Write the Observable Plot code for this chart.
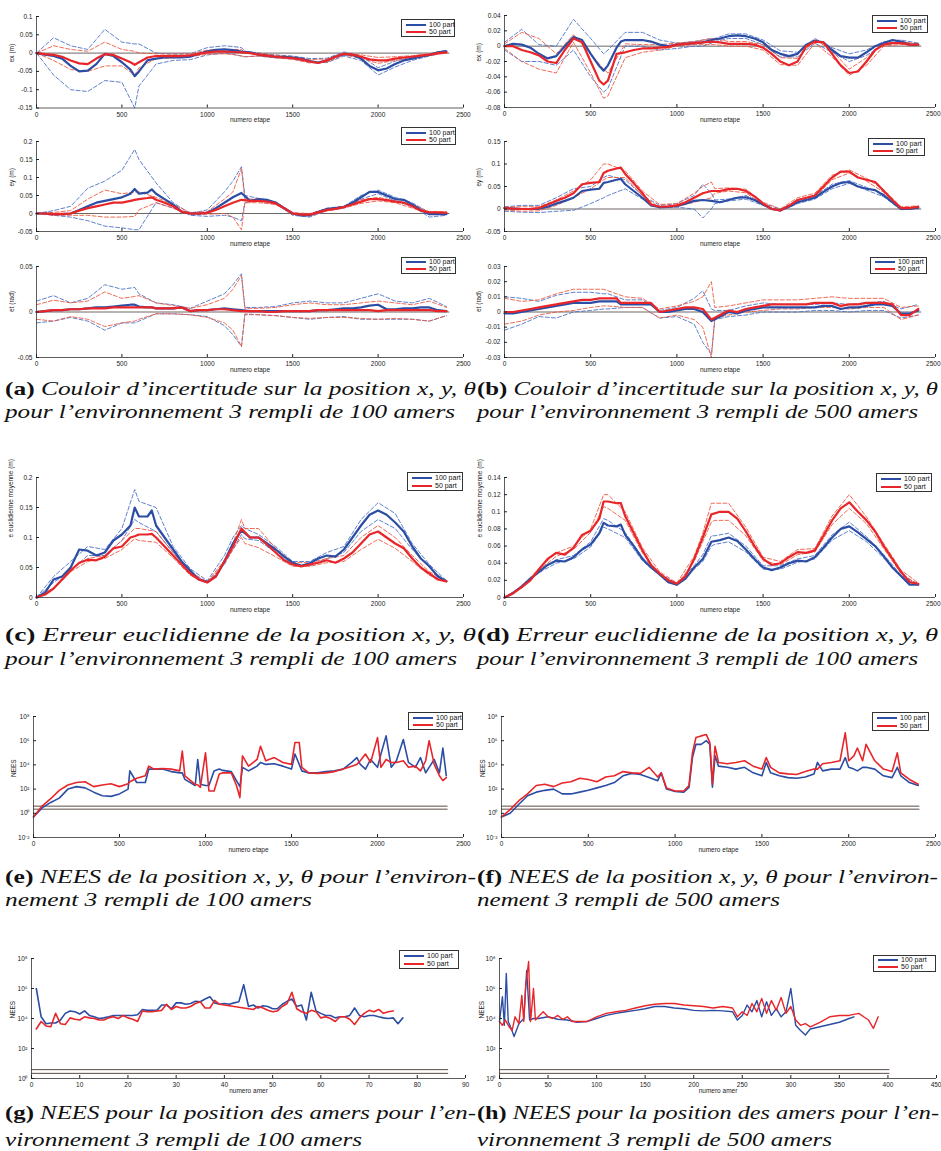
<!DOCTYPE html>
<html><head><meta charset="utf-8">
<script src="https://cdn.jsdelivr.net/npm/d3@7"></script>
<script src="https://cdn.jsdelivr.net/npm/@observablehq/plot@0.6"></script>
<style>
html,body{margin:0;padding:0;background:#fff;}
#root{position:relative;width:941px;height:1151px;overflow:hidden;background:#fff;}
.lg{position:absolute;border:0.8px solid #333;background:#fff;box-sizing:border-box;font:7px "Liberation Sans",Arial,sans-serif;color:#111;}
.lg .sw{position:absolute;left:4px;width:20px;height:2px;}
.lg .t{position:absolute;left:27px;white-space:nowrap;line-height:8px;}
</style></head><body><div id="root"></div>
<script>
// ---------------- data ----------------
const XE = [0,50,100,150,200,250,300,350,400,450,
 500,550,575,600,650,675,
 700,750,800,850,900,950,1000,1050,1100,1150,
 1200,1250,1300,1350,1400,1450,1500,1550,1600,1650,
 1700,1750,1800,1850,1900,1950,2000,2050,2100,2150,
 2200,2250,2300,2350,2400];
const XENV = [0,100,200,300,400,500,575, 600,700,800,900,1000,1100,1150, 1200,1220,1300,1400,1500,1600,1700, 1800,1900,2000,2100,2200,2300,2400];

// (a) ex
const A1_BLUE = [0,-0.004,-0.008,-0.015,-0.035,-0.05,-0.048,-0.03,-0.002,-0.008,
 -0.025,-0.045,-0.063,-0.05,-0.02,-0.017,
 -0.015,-0.012,-0.012,-0.012,-0.01,-0.002,0.005,0.009,0.01,0.008,
 0.004,0.002,-0.004,-0.007,-0.01,-0.01,-0.012,-0.015,-0.022,-0.026,
 -0.02,-0.01,-0.003,-0.005,-0.015,-0.035,-0.047,-0.042,-0.03,-0.02,
 -0.015,-0.01,-0.005,0.002,0.005];
const A1_RED = [0,-0.003,-0.005,-0.01,-0.02,-0.028,-0.03,-0.015,-0.003,-0.005,
 -0.015,-0.025,-0.032,-0.025,-0.012,-0.01,
 -0.008,-0.008,-0.008,-0.008,-0.006,-0.002,0.002,0.004,0.004,0.003,
 0.002,0,-0.004,-0.007,-0.01,-0.012,-0.014,-0.017,-0.023,-0.027,
 -0.02,-0.01,-0.002,-0.004,-0.01,-0.017,-0.02,-0.02,-0.015,-0.012,
 -0.01,-0.007,-0.004,0,0.002];
const A1_BLUE_HI = [0,0.042,0.02,0.01,0.065,0.03,0.025, 0.025,0,-0.003,-0.002,0.015,0.02,0.018, 0.015,0.005,0,-0.005,-0.008,-0.015,-0.014, 0.003,-0.008,-0.04,-0.022,-0.01,-0.002,0.008];
const A1_BLUE_LO = [0,-0.06,-0.1,-0.105,-0.075,-0.08,-0.15, -0.09,-0.03,-0.02,-0.018,-0.005,0,-0.003, -0.008,-0.01,-0.008,-0.013,-0.016,-0.025,-0.026, -0.008,-0.02,-0.06,-0.038,-0.02,-0.008,0.003];
const A1_RED_HI = [0,0.02,0.01,0.005,0.03,0.01,0.005, 0,-0.002,-0.003,-0.002,0.008,0.01,0.01, 0.01,0,0,-0.006,-0.01,-0.018,-0.016, 0,-0.005,-0.012,-0.01,-0.007,-0.002,0.004];
const A1_RED_LO = [0,-0.02,-0.045,-0.05,-0.035,-0.035,-0.06, -0.04,-0.015,-0.013,-0.01,-0.003,-0.002,-0.004, -0.008,-0.01,-0.008,-0.013,-0.017,-0.027,-0.025, -0.005,-0.014,-0.028,-0.02,-0.013,-0.007,0];

// (a) ey
const A2_BLUE = [0,0,-0.002,-0.002,0,0.01,0.02,0.03,0.035,0.04,
 0.045,0.055,0.068,0.055,0.058,0.067,
 0.055,0.04,0.025,0.005,0,0,0.002,0.015,0.03,0.045,
 0.057,0.035,0.04,0.038,0.03,0.015,0,-0.005,-0.005,0.005,
 0.012,0.015,0.018,0.03,0.045,0.06,0.06,0.05,0.04,0.038,
 0.025,0.01,-0.002,-0.002,-0.002];
const A2_RED = [0,0,-0.002,-0.001,0,0.008,0.015,0.02,0.025,0.03,
 0.03,0.035,0.038,0.04,0.043,0.045,
 0.038,0.03,0.02,0.005,0,0,0.002,0.01,0.02,0.03,
 0.038,0.035,0.035,0.033,0.028,0.015,0,-0.003,-0.003,0.003,
 0.01,0.013,0.018,0.025,0.033,0.04,0.04,0.037,0.033,0.03,
 0.02,0.008,0.003,0.003,0.002];
const A2_BLUE_HI = [0,0.008,0.02,0.07,0.09,0.12,0.178, 0.15,0.085,0.03,0,0.01,0.06,0.09, 0.13,0.05,0.042,0.033,0.002,-0.003,0.015, 0.02,0.05,0.065,0.045,0.03,0.002,0];
const A2_BLUE_LO = [0,-0.005,-0.01,-0.02,-0.035,-0.04,-0.045, -0.045,0.03,0.015,-0.005,-0.008,-0.005,-0.01, -0.02,0.03,0.035,0.027,-0.005,-0.01,0.008, 0.015,0.04,0.055,0.035,0.02,-0.01,-0.005];
const A2_RED_HI = [0,0.003,0.008,0.04,0.065,0.055,0.06, 0.06,0.045,0.025,0.003,0.005,0.04,0.06, 0.125,0.04,0.04,0.03,0.002,0,0.013, 0.02,0.038,0.045,0.035,0.025,0.005,0.005];
const A2_RED_LO = [0,-0.005,-0.005,-0.005,-0.01,-0.01,-0.008, 0.01,0.03,0.015,-0.003,-0.002,0,-0.01, -0.045,0.03,0.03,0.025,-0.002,-0.006,0.007, 0.015,0.028,0.035,0.03,0.015,0,0];

// (a) etheta
const A3_BLUE = [0,0.001,0.002,0.002,0.003,0.003,0.004,0.005,0.005,0.006,
 0.007,0.008,0.008,0.006,0.005,0.005,
 0.004,0.004,0.004,0.005,0.001,0.002,0.002,0.003,0.004,0.003,
 0.002,0.001,0.001,0.001,0.001,0.001,0.001,0.001,0.001,0.002,
 0.002,0.003,0.004,0.004,0.005,0.007,0.008,0.003,0.003,0.004,
 0.004,0.005,0.005,0.002,0.001];
const A3_RED = [0,0.001,0.002,0.002,0.003,0.003,0.004,0.004,0.004,0.005,
 0.005,0.005,0.005,0.005,0.005,0.005,
 0.004,0.004,0.004,0.005,0.001,0.002,0.002,0.003,0.003,0.002,
 0.001,0.001,0.001,0,0,0.001,0.001,0.001,0.001,0.002,
 0.002,0.002,0.002,0.002,0.002,0.002,0.001,0.002,0.002,0.002,
 0.002,0.002,0.002,0.001,0.001];
const A3_BLUE_HI = [0.012,0.018,0.01,0.015,0.03,0.025,0.027, 0.02,0.01,0.008,0.004,0.012,0.02,0.03, 0.042,0.005,0.005,0.006,0.01,0.012,0.01, 0.01,0.015,0.02,0.012,0.01,0.015,0.006];
const A3_BLUE_LO = [-0.012,-0.01,-0.006,-0.01,-0.02,-0.012,-0.012, -0.01,-0.002,-0.002,-0.003,-0.005,-0.015,-0.025, -0.038,-0.003,-0.003,-0.004,-0.006,-0.008,-0.006, -0.005,-0.008,-0.008,-0.008,-0.008,-0.01,-0.004];
const A3_RED_HI = [0.008,0.013,0.01,0.012,0.022,0.015,0.017, 0.018,0.01,0.007,0.004,0.008,0.015,0.025, 0.04,0.004,0.004,0.005,0.008,0.01,0.008, 0.008,0.01,0.012,0.01,0.008,0.012,0.005];
const A3_RED_LO = [-0.008,-0.01,-0.005,-0.008,-0.016,-0.012,-0.01, -0.008,-0.002,-0.002,-0.003,-0.006,-0.012,-0.02, -0.038,-0.002,-0.003,-0.004,-0.006,-0.007,-0.006, -0.006,-0.007,-0.008,-0.007,-0.008,-0.01,-0.004];

// (b) ex
const B1_BLUE = [0,0.003,0.002,-0.002,-0.01,-0.016,-0.013,0,0.012,0.008,
 -0.01,-0.026,-0.032,-0.025,-0.002,0.006,
 0.008,0.008,0.008,0.006,0.002,0,0.002,0.003,0.004,0.005,
 0.008,0.01,0.013,0.014,0.013,0.01,0.005,-0.005,-0.01,-0.013,
 -0.01,0.002,0.007,0.005,-0.005,-0.013,-0.015,-0.015,-0.008,0,
 0.004,0.008,0.006,0.002,0.002];
const B1_RED = [0,0,-0.005,-0.008,-0.012,-0.02,-0.022,-0.005,0.01,0.005,
 -0.02,-0.045,-0.05,-0.045,-0.01,-0.009,
 -0.008,-0.005,-0.003,-0.003,-0.002,-0.001,0.002,0.003,0.004,0.005,
 0.006,0.005,0.003,0.003,0.003,0.002,-0.002,-0.01,-0.02,-0.025,
 -0.02,0,0.006,0.005,-0.01,-0.025,-0.035,-0.033,-0.02,-0.005,
 0.002,0.004,0.004,0.002,0.002];
const B1_BLUE_HI = [0.005,0.022,0.002,0,0.035,0.01,-0.01, -0.005,0.018,0.018,0.008,0.004,0.006,0.008, 0.01,0.01,0.016,0.016,0.008,-0.006,-0.008, 0.01,-0.002,-0.01,-0.005,0.006,0.008,0.004];
const B1_BLUE_LO = [-0.005,-0.02,-0.02,-0.025,-0.005,-0.04,-0.06, -0.055,0,0,-0.005,-0.003,0,0, 0.004,0.006,0.01,0.01,0.002,-0.014,-0.014, 0.004,-0.008,-0.02,-0.012,0.002,0.004,0.001];
const B1_RED_HI = [0.003,0.018,0.01,-0.01,0.015,-0.01,-0.03, -0.035,0.003,0.002,0.002,0.004,0.006,0.008, 0.01,0.01,0.006,0.006,0.002,-0.015,-0.016, 0.009,-0.006,-0.03,-0.015,0.004,0.006,0.003];
const B1_RED_LO = [-0.003,-0.02,-0.03,-0.035,0.005,-0.035,-0.068, -0.065,-0.015,-0.008,-0.005,0,0.002,0.002, 0.002,0.002,0,0,-0.005,-0.024,-0.025, 0.004,-0.014,-0.038,-0.025,0,0.002,0.001];

// (b) ey
const B2_BLUE = [0.002,0.001,0,0,0.001,0.005,0.012,0.018,0.025,0.04,
 0.043,0.045,0.058,0.06,0.065,0.067,
 0.055,0.04,0.025,0.008,0.004,0.005,0.007,0.012,0.018,0.02,
 0.018,0.015,0.02,0.025,0.026,0.02,0.01,0,-0.003,0.005,
 0.015,0.02,0.025,0.038,0.05,0.058,0.06,0.05,0.045,0.042,
 0.03,0.015,0,0,0.003];
const B2_RED = [0.002,0.001,0,0,0.002,0.01,0.018,0.025,0.035,0.055,
 0.058,0.06,0.08,0.085,0.09,0.092,
 0.078,0.057,0.035,0.01,0.005,0.006,0.008,0.015,0.025,0.035,
 0.04,0.04,0.044,0.045,0.04,0.028,0.012,0,-0.003,0.007,
 0.02,0.025,0.03,0.05,0.07,0.083,0.083,0.07,0.065,0.06,
 0.04,0.02,0.002,0.002,0.005];
const B2_BLUE_HI = [0.005,0.008,0.008,0.025,0.045,0.05,0.07, 0.075,0.065,0.03,0.008,0.012,0.03,0.055, 0.035,0.02,0.022,0.03,0.012,0,0.018, 0.028,0.055,0.063,0.048,0.033,0.002,0.005];
const B2_BLUE_LO = [-0.005,-0.007,-0.008,-0.005,-0.003,0.012,0.025, 0.03,0.045,0.022,0.002,0.004,0,-0.02, 0,0.012,0.018,0.022,0.008,-0.005,0.012, 0.022,0.045,0.057,0.042,0.027,-0.002,0.002];
const B2_RED_HI = [0.004,0.005,0.005,0.02,0.04,0.065,0.1, 0.1,0.085,0.04,0.01,0.012,0.035,0.05, 0.06,0.045,0.047,0.044,0.015,0,0.025, 0.035,0.075,0.087,0.068,0.043,0.005,0.007];
const B2_RED_LO = [-0.002,-0.005,-0.004,0.008,0.025,0.045,0.065, 0.07,0.07,0.03,0.003,0.005,0.015,0.02, 0.025,0.035,0.04,0.036,0.009,-0.005,0.016, 0.026,0.065,0.08,0.062,0.037,0,0.003];

// (b) etheta
const B3_BLUE = [-0.001,-0.001,0,0.001,0.002,0.003,0.004,0.005,0.006,0.006,
 0.006,0.007,0.007,0.007,0.007,0.005,
 0.005,0.005,0.005,0.005,0,0,0.001,0.002,0.002,0,
 -0.006,-0.003,0,-0.001,0.001,0.002,0.003,0.003,0.003,0.003,
 0.003,0.003,0.003,0.004,0.004,0.002,0.003,0.003,0.004,0.005,
 0.005,0.004,-0.001,-0.001,0.001];
const B3_RED = [0,0,0.001,0.002,0.003,0.004,0.005,0.006,0.007,0.008,
 0.008,0.009,0.009,0.009,0.009,0.006,
 0.006,0.006,0.006,0.006,0,0.001,0.002,0.003,0.003,0.002,
 -0.005,-0.002,0.001,0,0.002,0.003,0.004,0.005,0.005,0.005,
 0.005,0.005,0.006,0.006,0.006,0.004,0.005,0.005,0.006,0.006,
 0.006,0.005,-0.002,-0.002,0.002];
const B3_BLUE_HI = [0.01,0.009,0.007,0.011,0.013,0.013,0.012, 0.012,0.008,0.008,0.001,0.003,0.009,0.014, 0.002,0.001,0.001,0.004,0.006,0.005,0.005, 0.005,0.006,0.005,0.006,0.007,0.002,0.005];
const B3_BLUE_LO = [-0.012,-0.008,-0.003,-0.004,0,0.001,0.002, 0.002,0.003,0.003,-0.004,-0.003,-0.008,-0.02, -0.028,-0.005,-0.003,-0.002,0,0,0, 0.001,0.001,0,0.001,0.001,-0.004,-0.002];
const B3_RED_HI = [0.009,0.007,0.008,0.012,0.015,0.015,0.015, 0.014,0.01,0.009,0.002,0.004,0.007,0.01, 0.02,0.003,0.004,0.006,0.008,0.008,0.008, 0.009,0.01,0.009,0.009,0.009,0.003,0.004];
const B3_RED_LO = [-0.008,-0.006,-0.002,0,0.001,0.003,0.004, 0.004,0.003,0.003,-0.004,-0.002,-0.005,-0.01, -0.03,-0.004,-0.002,0,0.001,0.002,0.002, 0.003,0.003,0.002,0.003,0.003,-0.005,-0.002];

// (c) euclidean error, 100 landmarks
const C_BLUE = [0,0.008,0.03,0.035,0.05,0.08,0.078,0.07,0.075,0.095,
 0.105,0.12,0.15,0.135,0.135,0.145,
 0.12,0.1,0.08,0.06,0.045,0.03,0.026,0.035,0.06,0.09,
 0.112,0.1,0.1,0.09,0.08,0.068,0.058,0.053,0.057,0.065,
 0.07,0.068,0.08,0.1,0.12,0.138,0.145,0.138,0.125,0.11,
 0.085,0.065,0.052,0.035,0.027];
const C_RED = [0,0.005,0.015,0.03,0.045,0.058,0.063,0.062,0.068,0.082,
 0.085,0.1,0.102,0.105,0.105,0.106,
 0.1,0.085,0.07,0.055,0.04,0.03,0.025,0.035,0.06,0.085,
 0.115,0.1,0.1,0.088,0.075,0.062,0.055,0.052,0.055,0.058,
 0.062,0.058,0.065,0.075,0.09,0.105,0.11,0.1,0.09,0.082,
 0.065,0.05,0.04,0.03,0.027];
const C_BLUE_HI = [0,0.035,0.06,0.085,0.08,0.115,0.18, 0.16,0.15,0.085,0.048,0.028,0.07,0.1, 0.12,0.115,0.105,0.085,0.06,0.06,0.075, 0.085,0.13,0.158,0.14,0.09,0.055,0.028];
const C_BLUE_LO = [0,0.025,0.045,0.07,0.07,0.095,0.13, 0.125,0.11,0.075,0.042,0.024,0.055,0.08, 0.105,0.098,0.095,0.075,0.055,0.053,0.065, 0.075,0.11,0.13,0.115,0.08,0.05,0.026];
const C_RED_HI = [0,0.016,0.047,0.065,0.07,0.095,0.115, 0.115,0.11,0.075,0.043,0.026,0.062,0.09, 0.13,0.115,0.115,0.082,0.058,0.058,0.065, 0.07,0.1,0.12,0.1,0.07,0.043,0.028];
const C_RED_LO = [0,0.014,0.043,0.06,0.065,0.08,0.098, 0.095,0.092,0.066,0.037,0.024,0.058,0.08, 0.1,0.09,0.083,0.068,0.052,0.052,0.058, 0.06,0.08,0.097,0.082,0.06,0.037,0.026];

// (d) euclidean error, 500 landmarks
const D_BLUE = [0,0.005,0.013,0.022,0.03,0.038,0.043,0.042,0.047,0.056,
 0.062,0.075,0.087,0.084,0.083,0.085,
 0.073,0.06,0.045,0.035,0.027,0.018,0.015,0.022,0.035,0.045,
 0.065,0.067,0.07,0.066,0.056,0.045,0.035,0.032,0.035,0.04,
 0.043,0.042,0.047,0.058,0.07,0.08,0.083,0.076,0.068,0.06,
 0.048,0.035,0.025,0.015,0.015];
const D_RED = [0,0.005,0.012,0.02,0.033,0.045,0.052,0.05,0.058,0.073,
 0.078,0.092,0.112,0.112,0.11,0.11,
 0.095,0.075,0.055,0.038,0.028,0.02,0.016,0.025,0.045,0.07,
 0.097,0.1,0.1,0.092,0.077,0.06,0.045,0.038,0.04,0.047,
 0.053,0.052,0.055,0.072,0.09,0.104,0.111,0.1,0.09,0.077,
 0.06,0.045,0.03,0.018,0.016];
const D_BLUE_HI = [0,0.013,0.031,0.044,0.049,0.065,0.092, 0.09,0.076,0.047,0.028,0.016,0.037,0.05, 0.072,0.072,0.075,0.06,0.037,0.037,0.045, 0.049,0.073,0.088,0.071,0.05,0.026,0.016];
const D_BLUE_LO = [0,0.012,0.029,0.04,0.045,0.059,0.082, 0.08,0.07,0.043,0.026,0.014,0.033,0.042, 0.06,0.062,0.065,0.053,0.033,0.033,0.041, 0.045,0.067,0.078,0.065,0.046,0.024,0.014];
const D_RED_HI = [0,0.013,0.034,0.052,0.06,0.08,0.12, 0.12,0.1,0.058,0.03,0.017,0.048,0.075, 0.11,0.11,0.11,0.082,0.047,0.042,0.056, 0.057,0.095,0.12,0.094,0.063,0.032,0.017];
const D_RED_LO = [0,0.011,0.032,0.048,0.056,0.076,0.106, 0.104,0.09,0.052,0.026,0.015,0.042,0.065, 0.088,0.09,0.09,0.072,0.043,0.038,0.05, 0.053,0.085,0.104,0.086,0.057,0.028,0.015];

// (e) NEES robot, 100 landmarks
const E_X = [0,50,100,150,200,250,300,350,400,450,
 500,550,560,600,650,670,700,750,800,850,
 865,880,940,955,970,1000,1020,1050,1080,1100,
 1150,1180,1200,1215,1250,1300,1320,1350,1400,1450,
 1500,1520,1545,1560,1600,1650,1700,1750,1800,1850,
 1880,1900,1930,1960,2000,2020,2050,2080,2110,2150,
 2180,2220,2250,2280,2300,2330,2360,2380,2400];
const E_BLUE = [0.5,2.8,7.9,18,100,160,126,56,28,25,
 40,100,3200,350,350,4500,4500,4500,2800,2200,
 2200,630,200,28000,250,200,200,3200,4500,3500,
 2800,500,160,6300,3200,7900,16000,11000,12600,7900,
 4500,79000,11000,3200,2200,2200,2800,3200,4500,16000,
 40000,11000,4500,28000,6300,79000,2.5e6,6300,22000,1.26e6,
 16000,6300,40000,2200,6300,28000,2200,2.5e5,1260];
const E_RED = [0.5,4,16,79,220,350,400,160,220,280,
 160,280,400,800,1260,7900,4500,5000,4500,3200,
 1.4e5,1260,250,220,140,1e5,70,70,1800,2200,
 2200,200,20,56000,7900,28000,3.5e5,22000,40000,16000,
 11000,7e5,7e5,6300,2200,2000,2200,2800,4500,7900,
 11000,22000,79000,16000,1.8e6,6300,28000,16000,16000,22000,
 6300,7900,3200,22000,1e6,11000,1260,500,900];

// (f) NEES robot, 500 landmarks
const F_X = [0,50,100,150,200,250,300,350,400,450,
 500,550,600,650,700,750,800,850,900,920,
 950,1000,1050,1080,1100,1120,1150,1180,1200,1215,
 1230,1250,1300,1350,1400,1450,1500,1525,1550,1600,
 1650,1700,1750,1800,1820,1850,1900,1950,1980,2000,
 2030,2050,2080,2100,2150,2200,2250,2280,2300,2350,
 2400];
const F_BLUE = [0.5,1,5.6,28,56,79,100,40,40,56,
 79,126,200,350,1260,2000,1600,890,500,2200,
 100,63,56,141,40000,5e5,5e5,1e6,5e5,141,
 56000,7900,6300,4500,6300,2200,1260,16000,2200,1260,
 890,790,1000,1800,16000,3200,4500,4500,40000,6300,
 4500,3200,6300,6300,4500,1260,890,6300,1260,350,
 200];
const F_RED = [0.5,2,11,40,200,250,160,320,400,790,
 630,400,1000,1260,2800,2200,2000,6300,1000,2200,
 126,70,70,200,1e5,1.8e6,2.5e6,3.2e6,7e5,250,
 3.5e5,16000,12600,16000,22000,7900,4500,40000,6300,2200,
 1800,1600,2800,4500,4500,12600,16000,22000,4.5e6,22000,
 56000,2.5e5,22000,5e5,22000,4500,2800,1e5,2200,630,
 250];

// (g) NEES landmarks, 100 landmarks
const G_X_BLUE = [1,2,3,4,5,6,7,8,9,10,11,12,13,14,15,16,17,18,19,20,21,22,23,24,25,26,27,28,29,30,31,32,33,34,35,36,37,38,39,40,41,42,43,44,45,46,47,48,49,50,51,52,53,54,55,56,57,58,59,60,61,62,63,64,65,66,67,68,69,70,71,72,73,74,75,76,77];
const G_BLUE = [1e6,1.3e4,4.5e3,5e3,5e3,7.9e3,2.2e4,3.2e4,2.8e4,2e4,
 3.2e4,1.6e4,1.3e4,1e4,1.1e4,1.3e4,1.6e4,1.6e4,1.6e4,1.6e4,
 1.6e4,1.8e4,4e4,3.5e4,3.5e4,3.5e4,7.9e4,7.9e4,4.5e4,1.1e5,
 1.1e5,8.9e4,1e5,1.4e5,1.3e5,2e5,2.8e5,1.1e5,8.9e4,1e5,
 8.9e4,1.1e5,1.3e5,1.8e6,6.3e4,7.9e4,5e4,7.1e4,6.3e4,4.5e4,
 4.5e4,8.9e4,1.4e5,2e5,6.3e4,7.9e4,7.9e3,5.6e5,3.2e4,2.2e4,
 1.6e4,1.6e4,1.1e4,1.3e4,1.3e4,1.6e4,5e4,1.6e4,1.3e4,1.6e4,
 1.6e4,1.3e4,1.1e4,1e4,1.1e4,4.5e3,1.1e4];
const G_X_RED = [1,2,3,4,5,6,7,8,9,10,11,12,13,14,15,16,17,18,19,20,21,22,23,24,25,26,27,28,29,30,31,32,33,34,35,36,37,38,39,40,41,42,43,44,45,46,47,48,49,50,51,52,53,54,55,56,57,58,59,60,61,62,63,64,65,66,67,68,69,70,71,72,73,74,75];
const G_RED = [2e3,6.3e3,3.2e3,2.8e3,2.2e4,4.5e3,4e3,1.1e4,8.9e3,7.9e3,
 1.3e4,1.1e4,1e4,7.9e3,7.9e3,1.1e4,1.3e4,1e4,1.6e4,1.1e4,
 8.9e3,6.3e3,3.2e4,2.8e4,2.8e4,3.2e4,3.5e4,8.9e4,4e4,6.3e4,
 5e4,5e4,6.3e4,1e5,1.3e5,5e4,5e4,1.6e5,8.9e4,7.9e4,
 7.1e4,6.3e4,5.6e4,5e4,4.5e4,4e4,6.3e4,5e4,3.5e4,2.8e4,
 3.2e4,6.3e4,1e5,5.6e5,4.5e4,2.8e4,2.2e4,3.5e4,2.8e4,1.1e4,
 1.3e4,1e4,6.3e3,1.3e4,1.3e4,8.9e3,4e3,1.1e4,2.2e4,3.5e4,
 2.8e4,4e4,2.2e4,2.8e4,3.2e4];

// (h) NEES landmarks, 500 landmarks
const H_X_BLUE = [0,3,5,7,9,12,15,20,25,28, 31,35,40,50,60,70,80,90,100,110, 120,130,140,150,160,170,180,190,200,210, 220,230,240,245,250,255,260,265,270,275, 280,285,290,295,300,305,310,315,320,330, 340,350,360,365];
const H_BLUE = [6300,2.8e5,3500,1e7,6300,2200,630,4500,1e4,1.6e7, 7900,1e4,1e4,1.3e4,8900,7900,5600,6300,1e4,1.6e4, 2.2e4,2.8e4,3.5e4,4.5e4,6.3e4,6.3e4,5e4,4.5e4,3.5e4,3.2e4, 3.5e4,3.2e4,2.8e4,7900,1.6e4,7.9e4,2.8e4,1.6e5,1.3e4,1.3e5, 1.6e4,4.5e4,1.3e4,2.8e4,1e6,3500,1600,790,2000,2800, 4000,5600,1e4,1.3e4];
const H_X_RED = [0,3,6,10,13,16,20,23,25,27, 30,32,35,37,40,45,50,55,60,65, 70,75,80,90,100,110,120,130,140,150, 160,170,180,190,200,210,220,230,240,245, 250,255,260,265,270,275,280,285,290,295, 300,305,310,315,320,330,340,350,360,370, 375,380,385,390];
const H_RED = [6300,3500,7900,2800,1600,1.3e4,4500,3.5e5,6300,1.6e6, 6.3e7,6300,1e6,7900,1.3e4,2.8e4,1.3e4,1e4,1.6e4,8900, 1.3e4,6300,6300,6300,1.3e4,2.2e4,2.8e4,3.5e4,5e4,7.1e4, 8.9e4,1e5,1e5,7.9e4,7.1e4,6.3e4,5e4,6.3e4,5e4,1.3e4, 2.8e4,1.6e4,1e5,2.8e4,2.2e5,2.2e4,1.6e5,3.5e4,2.5e5,2.2e4, 6.3e4,7900,3500,4500,2800,5600,1.3e4,1.6e4,1.6e4,2.2e4, 1.3e4,7900,2200,1.3e4];

// reference lines
const ZERO_LINE_END = 2420;
const NEES_BOUNDS = [2.2, 3.9];
const NEES_BOUND_END_STEPS = 2410;
const NEES_BOUND_END_G = 86.5;
const NEES_BOUND_END_H = 402;

// ticks & labels
const STEP_TICKS = [0,500,1000,1500,2000,2500];
const G_TICKS = [0,10,20,30,40,50,60,70,80,90];
const H_TICKS = [0,50,100,150,200,250,300,350,400,450];
const A1_YT = [-0.15,-0.1,-0.05,0,0.05,0.1];
const A2_YT = [-0.05,0,0.05,0.1,0.15,0.2];
const A3_YT = [-0.05,0,0.05];
const B1_YT = [-0.08,-0.06,-0.04,-0.02,0,0.02,0.04];
const B2_YT = [-0.05,0,0.05,0.1,0.15];
const B3_YT = [-0.03,-0.02,-0.01,0,0.01,0.02,0.03];
const C_YT = [0,0.05,0.1,0.15,0.2];
const D_YT = [0,0.02,0.04,0.06,0.08,0.1,0.12,0.14];
const NEES_TICKS_EF = [1e-2,1,1e2,1e4,1e6,1e8];
const NEES_LABELS_EF = ["10⁻²","10⁰","10²","10⁴","10⁶","10⁸"];
const NEES_TICKS_GH = [1,1e2,1e4,1e6,1e8];
const NEES_LABELS_GH = ["10⁰","10²","10⁴","10⁶","10⁸"];
const LEGEND_LABELS = ["100 part", "50 part"];
const X_LABEL_STEP = "numero etape";
const X_LABEL_AMER = "numero amer";

const CAPTION_TAGS = ["(a)","(b)","(c)","(d)","(e)","(f)","(g)","(h)"];
const CAPTION_LINE1 = [
 "Couloir d’incertitude sur la position x, y, θ",
 "Couloir d’incertitude sur la position x, y, θ",
 "Erreur euclidienne de la position x, y, θ",
 "Erreur euclidienne de la position x, y, θ",
 "NEES de la position x, y, θ pour l’environ-",
 "NEES de la position x, y, θ pour l’environ-",
 "NEES pour la position des amers pour l’en-",
 "NEES pour la position des amers pour l’en-"];
const CAPTION_LINE2 = [
 "pour l’environnement 3 rempli de 100 amers",
 "pour l’environnement 3 rempli de 500 amers",
 "pour l’environnement 3 rempli de 100 amers",
 "pour l’environnement 3 rempli de 100 amers",
 "nement 3 rempli de 100 amers",
 "nement 3 rempli de 500 amers",
 "vironnement 3 rempli de 100 amers",
 "vironnement 3 rempli de 500 amers"];

// ---------------- drawing ----------------
const BLUE = "#2b4ea4", RED = "#e8262a", BLUE_D = "#4d73c8", RED_D = "#ee5a42";
const AX_C = "#333", ZERO_C = "#6d6764", BOUND_C = "#5b4c45";
const root = document.getElementById("root");
function place(node, left, top) {
  node.style.position = "absolute"; node.style.left = left + "px"; node.style.top = top + "px";
  root.appendChild(node);
}
function legend(l, t, w, h) {
  const d = document.createElement("div");
  d.className = "lg";
  d.style.left = l + "px"; d.style.top = t + "px"; d.style.width = w + "px"; d.style.height = h + "px";
  [BLUE, RED].forEach((c, i) => {
    const cy = h * (i === 0 ? 0.28 : 0.70);
    const sw = document.createElement("div"); sw.className = "sw";
    sw.style.background = c; sw.style.top = (cy - 1.5) + "px";
    const tx = document.createElement("div"); tx.className = "t";
    tx.style.top = (cy - 4.5) + "px"; tx.textContent = LEGEND_LABELS[i];
    d.appendChild(sw); d.appendChild(tx);
  });
  root.appendChild(d);
}
function bandSeries(b, r, bh, bl, rh, rl) {
  const dash = "4,2.2";
  return [
    {x: XENV, y: bh, c: BLUE_D, w: 0.9, dash}, {x: XENV, y: bl, c: BLUE_D, w: 0.9, dash},
    {x: XENV, y: rh, c: RED_D, w: 0.9, dash}, {x: XENV, y: rl, c: RED_D, w: 0.9, dash},
    {x: XE, y: b, c: BLUE, w: 2.2}, {x: XE, y: r, c: RED, w: 2.2}
  ];
}
function panel(c) {
  const ML = 40, MR = 14, MT = 8, MB = 26;
  const fw = c.px[1] - c.px[0], fh = c.py[1] - c.py[0];
  const marks = [];
  if (c.zero) marks.push(Plot.ruleY([0], {x1: () => 0, x2: () => ZERO_LINE_END, stroke: ZERO_C, strokeWidth: 1}));
  if (c.bounds) marks.push(Plot.ruleY(NEES_BOUNDS, {x1: () => 0, x2: () => c.bounds, stroke: BOUND_C, strokeWidth: 1}));
  for (const s of c.series) {
    marks.push(Plot.line(s.y, {x: s.x, y: s.y, stroke: s.c, strokeWidth: s.w, strokeDasharray: s.dash, strokeLinejoin: "round"}));
  }
  marks.push(Plot.ruleX([c.xdom[0]], {stroke: AX_C, strokeWidth: 0.8}));
  marks.push(Plot.ruleY([c.ydom[0]], {stroke: AX_C, strokeWidth: 0.8}));
  const lastTick = c.xticks[c.xticks.length - 1];
  marks.push(Plot.axisX(c.xticks, {tickSize: -3, tickPadding: 7, label: null,
    tickFormat: d => (c.right && d === lastTick) ? "" : String(d)}));
  if (c.right) {
    marks.push(Plot.text([lastTick], {x: d => d, text: d => String(d), frameAnchor: "bottom", dy: 4, lineAnchor: "top", textAnchor: "end", dx: 5}));
  }
  marks.push(Plot.axisY(c.yticks, {tickSize: -3, tickPadding: 7, tickFormat: c.yfmt || (d => String(d)), label: null}));
  marks.push(Plot.text([c.xlabel], {text: d => d, frameAnchor: "bottom", dy: 14}));
  marks.push(Plot.text([c.ylabel], {text: d => d, frameAnchor: "left", dx: -c.ylo, rotate: -90}));
  const p = Plot.plot({
    width: fw + ML + MR, height: fh + MT + MB,
    marginLeft: ML, marginRight: MR, marginTop: MT, marginBottom: MB,
    x: {domain: c.xdom}, y: {type: c.ytype || "linear", domain: c.ydom},
    style: {fontFamily: "Liberation Sans, Arial, sans-serif", fontSize: "6.5px", color: "#222", background: "transparent", overflow: "visible"},
    marks
  });
  place(p, c.px[0] - ML, c.py[0] - MT);
  legend(...c.leg);
}
const LX = [36, 463], RX = [504, 935], XD = [0, 2500];
panel({px: LX, py: [15.5,107], xdom: XD, ydom: [-0.15,0.1], xticks: STEP_TICKS, yticks: A1_YT, zero: true,
  series: bandSeries(A1_BLUE, A1_RED, A1_BLUE_HI, A1_BLUE_LO, A1_RED_HI, A1_RED_LO), xlabel: X_LABEL_STEP, ylabel: "ex (m)", ylo: 25, leg: [401,19,54,18]});
panel({px: LX, py: [141,231], xdom: XD, ydom: [-0.05,0.2], xticks: STEP_TICKS, yticks: A2_YT, zero: true,
  series: bandSeries(A2_BLUE, A2_RED, A2_BLUE_HI, A2_BLUE_LO, A2_RED_HI, A2_RED_LO), xlabel: X_LABEL_STEP, ylabel: "ey (m)", ylo: 25, leg: [401,127,55,18]});
panel({px: LX, py: [266,357], xdom: XD, ydom: [-0.05,0.05], xticks: STEP_TICKS, yticks: A3_YT, zero: true,
  series: bandSeries(A3_BLUE, A3_RED, A3_BLUE_HI, A3_BLUE_LO, A3_RED_HI, A3_RED_LO), xlabel: X_LABEL_STEP, ylabel: "et (rad)", ylo: 25, leg: [401,257,55,17]});
panel({px: RX, py: [15,107], xdom: XD, ydom: [-0.08,0.04], xticks: STEP_TICKS, yticks: B1_YT, zero: true, right: true,
  series: bandSeries(B1_BLUE, B1_RED, B1_BLUE_HI, B1_BLUE_LO, B1_RED_HI, B1_RED_LO), xlabel: X_LABEL_STEP, ylabel: "ex (m)", ylo: 26, leg: [872,15,56,18]});
panel({px: RX, py: [141,231], xdom: XD, ydom: [-0.05,0.15], xticks: STEP_TICKS, yticks: B2_YT, zero: true, right: true,
  series: bandSeries(B2_BLUE, B2_RED, B2_BLUE_HI, B2_BLUE_LO, B2_RED_HI, B2_RED_LO), xlabel: X_LABEL_STEP, ylabel: "ey (m)", ylo: 26, leg: [868,138,57,18]});
panel({px: RX, py: [266,357], xdom: XD, ydom: [-0.03,0.03], xticks: STEP_TICKS, yticks: B3_YT, zero: true, right: true,
  series: bandSeries(B3_BLUE, B3_RED, B3_BLUE_HI, B3_BLUE_LO, B3_RED_HI, B3_RED_LO), xlabel: X_LABEL_STEP, ylabel: "et (rad)", ylo: 26, leg: [870,257,57,17]});
panel({px: LX, py: [477,597], xdom: XD, ydom: [0,0.2], xticks: STEP_TICKS, yticks: C_YT,
  series: bandSeries(C_BLUE, C_RED, C_BLUE_HI, C_BLUE_LO, C_RED_HI, C_RED_LO), xlabel: X_LABEL_STEP, ylabel: "e euclidienne moyenne (m)", ylo: 26, leg: [407,472,56,19]});
panel({px: RX, py: [477,597], xdom: XD, ydom: [0,0.14], xticks: STEP_TICKS, yticks: D_YT, right: true,
  series: bandSeries(D_BLUE, D_RED, D_BLUE_HI, D_BLUE_LO, D_RED_HI, D_RED_LO), xlabel: X_LABEL_STEP, ylabel: "e euclidienne moyenne (m)", ylo: 25, leg: [876,473,56,19]});
const fmtEF = d => NEES_LABELS_EF[NEES_TICKS_EF.indexOf(d)];
const fmtGH = d => NEES_LABELS_GH[NEES_TICKS_GH.indexOf(d)];
panel({px: [33,463], py: [716,837], xdom: XD, ydom: [1e-2,1e8], ytype: "log", xticks: STEP_TICKS, yticks: NEES_TICKS_EF, yfmt: fmtEF, bounds: NEES_BOUND_END_STEPS,
  series: [{x: E_X, y: E_BLUE, c: BLUE, w: 1.6}, {x: E_X, y: E_RED, c: RED, w: 1.6}], xlabel: X_LABEL_STEP, ylabel: "NEES", ylo: 20, leg: [408,712,55,18]});
panel({px: [501,935], py: [716,837], xdom: XD, ydom: [1e-2,1e8], ytype: "log", xticks: STEP_TICKS, yticks: NEES_TICKS_EF, yfmt: fmtEF, bounds: NEES_BOUND_END_STEPS, right: true,
  series: [{x: F_X, y: F_BLUE, c: BLUE, w: 1.6}, {x: F_X, y: F_RED, c: RED, w: 1.6}], xlabel: X_LABEL_STEP, ylabel: "NEES", ylo: 19, leg: [872,712,57,19]});
panel({px: [31,465], py: [958,1078], xdom: [0,90], ydom: [1,1e8], ytype: "log", xticks: G_TICKS, yticks: NEES_TICKS_GH, yfmt: fmtGH, bounds: NEES_BOUND_END_G,
  series: [{x: G_X_BLUE, y: G_BLUE, c: BLUE, w: 1.6}, {x: G_X_RED, y: G_RED, c: RED, w: 1.6}], xlabel: X_LABEL_AMER, ylabel: "NEES", ylo: 19, leg: [399,950,60,19]});
panel({px: [499,936], py: [958,1078], xdom: [0,450], ydom: [1,1e8], ytype: "log", xticks: H_TICKS, yticks: NEES_TICKS_GH, yfmt: fmtGH, bounds: NEES_BOUND_END_H, right: true,
  series: [{x: H_X_BLUE, y: H_BLUE, c: BLUE, w: 1.4}, {x: H_X_RED, y: H_RED, c: RED, w: 1.4}], xlabel: X_LABEL_AMER, ylabel: "NEES", ylo: 18, leg: [873,955,63,17]});

// captions
const CAP_X = [5, 477];
const CAP_Y = [[395,418],[641,665],[883,906],[1119,1146]];
const CAP_W1 = [[471,461],[471,461],[471,461],[471,462]];
const CAP_W2 = [[450,441],[452,441],[307,303],[357,355]];
const svg = d3.create("svg").attr("width", 941).attr("height", 1151)
  .style("position", "absolute").style("left", "0px").style("top", "0px")
  .attr("font-family", "Liberation Serif, Times New Roman, serif").attr("font-size", 19.5).attr("fill", "#111");
CAPTION_TAGS.forEach((tag, i) => {
  const row = Math.floor(i / 2), col = i % 2;
  const t1 = svg.append("text").attr("x", CAP_X[col]).attr("y", CAP_Y[row][0])
    .attr("textLength", CAP_W1[row][col]).attr("lengthAdjust", "spacingAndGlyphs");
  t1.append("tspan").attr("font-weight", "bold").text(tag);
  t1.append("tspan").attr("font-style", "italic").text(" " + CAPTION_LINE1[i]);
  svg.append("text").attr("x", CAP_X[col]).attr("y", CAP_Y[row][1])
    .attr("textLength", CAP_W2[row][col]).attr("lengthAdjust", "spacingAndGlyphs")
    .attr("font-style", "italic").text(CAPTION_LINE2[i]);
});
root.appendChild(svg.node());
</script></body></html>
